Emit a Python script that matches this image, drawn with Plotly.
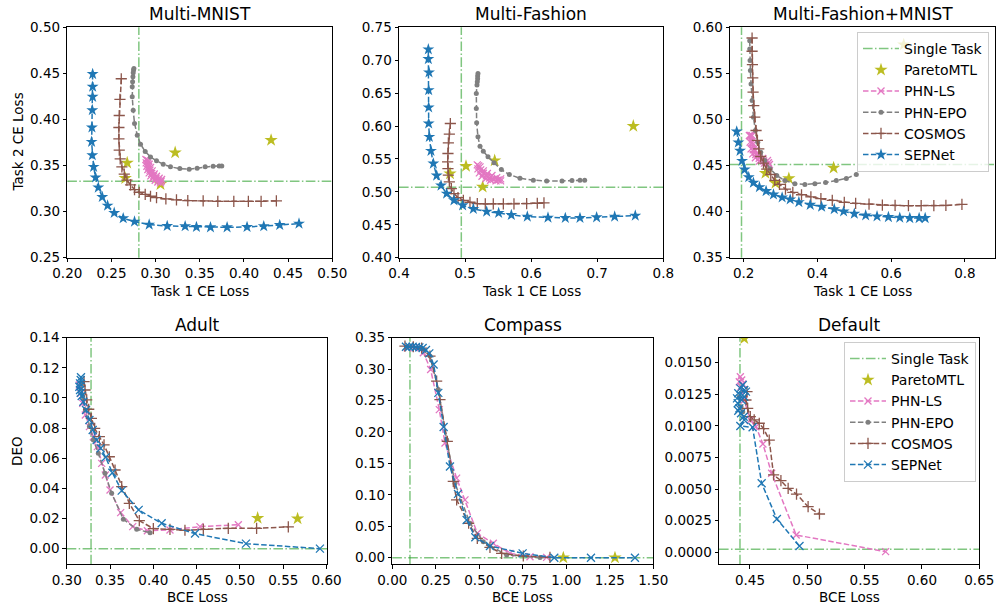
import plotly.graph_objects as go

# ---------------- colours ----------------
C_BLUE = '#1f77b4'
C_BROWN = '#8c564b'
C_PINK = '#e377c2'
C_GRAY = '#7f7f7f'
C_OLIVE = '#bcbd22'
C_GREEN = 'rgba(44,160,44,0.6)'

# ---------------- Multi-MNIST ----------------
mnist_single = (0.2810, 0.3330)
mnist_pareto_x = [0.2678, 0.2656, 0.3055, 0.3221, 0.4307]
mnist_pareto_y = [0.3529, 0.3362, 0.3297, 0.3641, 0.3775]
mnist_phnls_x = [0.2890, 0.2893, 0.2901, 0.2912, 0.2927, 0.2946, 0.2969, 0.2995, 0.3025, 0.3055,
                 0.3061, 0.3032, 0.3004, 0.2978, 0.2955, 0.2936, 0.2921, 0.2910, 0.2905,
                 0.2920, 0.2927, 0.2942, 0.2961, 0.2984, 0.3010, 0.3040, 0.3067]
mnist_phnls_y = [0.3565, 0.3529, 0.3493, 0.3457, 0.3420, 0.3388, 0.3362, 0.3341, 0.3322, 0.3312,
                 0.3330, 0.3342, 0.3362, 0.3386, 0.3414, 0.3450, 0.3485, 0.3521, 0.3558,
                 0.3551, 0.3514, 0.3478, 0.3442, 0.3409, 0.3384, 0.3362, 0.3348]
mnist_phnepo_x = [0.2754, 0.2750, 0.2746, 0.2743, 0.2739, 0.2735, 0.2735, 0.2746, 0.2761, 0.2792,
                  0.2829, 0.2882, 0.2942, 0.3010, 0.3086, 0.3168, 0.3274, 0.3380, 0.3470, 0.3561,
                  0.3651, 0.3719, 0.3749]
mnist_phnepo_y = [0.4554, 0.4536, 0.4507, 0.4464, 0.4409, 0.4355, 0.4246, 0.4101, 0.3957, 0.3830,
                  0.3732, 0.3652, 0.3594, 0.3551, 0.3514, 0.3486, 0.3467, 0.3460, 0.3471, 0.3486,
                  0.3493, 0.3496, 0.3496]
mnist_cosmos_x = [0.2611, 0.2596, 0.2588, 0.2584, 0.2584, 0.2588, 0.2599, 0.2618, 0.2645, 0.2675,
                  0.2716, 0.2761, 0.2814, 0.2882, 0.2942, 0.3010, 0.3116, 0.3236, 0.3364, 0.3538,
                  0.3704, 0.3885, 0.4050, 0.4194, 0.4367]
mnist_cosmos_y = [0.4442, 0.4217, 0.4043, 0.3913, 0.3790, 0.3667, 0.3572, 0.3486, 0.3406, 0.3341,
                  0.3290, 0.3239, 0.3210, 0.3188, 0.3167, 0.3152, 0.3138, 0.3127, 0.3120, 0.3116,
                  0.3112, 0.3112, 0.3112, 0.3112, 0.3116]
mnist_sepnet_x = [0.2287, 0.2287, 0.2287, 0.2283, 0.2279, 0.2275, 0.2283, 0.2298, 0.2320, 0.2351,
                  0.2396, 0.2456, 0.2531, 0.2633, 0.2761, 0.2927, 0.3131, 0.3334, 0.3462, 0.3621,
                  0.3809, 0.4035, 0.4224, 0.4405, 0.4623]
mnist_sepnet_y = [0.4493, 0.4355, 0.4246, 0.4101, 0.3913, 0.3757, 0.3612, 0.3486, 0.3370, 0.3261,
                  0.3159, 0.3065, 0.2986, 0.2928, 0.2891, 0.2859, 0.2844, 0.2841, 0.2833, 0.2830,
                  0.2830, 0.2833, 0.2841, 0.2855, 0.2870]

# ---------------- Multi-Fashion ----------------
fash_single = (0.4943, 0.5070)
fash_pareto_x = [0.5014, 0.4772, 0.5266, 0.5448, 0.7546]
fash_pareto_y = [0.5390, 0.5278, 0.5075, 0.5476, 0.5999]
fash_phnls_x = [0.5185, 0.5195, 0.5216, 0.5256, 0.5317, 0.5387, 0.5468, 0.5538,
                0.5500, 0.5427, 0.5372, 0.5322, 0.5276, 0.5236, 0.5205,
                0.5226, 0.5276, 0.5337, 0.5407, 0.5478, 0.5538]
fash_phnls_y = [0.5410, 0.5349, 0.5288, 0.5238, 0.5202, 0.5177, 0.5167, 0.5167,
                0.5180, 0.5190, 0.5212, 0.5243, 0.5283, 0.5334, 0.5395,
                0.5380, 0.5319, 0.5278, 0.5248, 0.5217, 0.5197]
fash_phnepo_x = [0.5195, 0.5190, 0.5190, 0.5185, 0.5180, 0.5170, 0.5170, 0.5175, 0.5195, 0.5226,
                 0.5276, 0.5347, 0.5438, 0.5549, 0.5670, 0.5831, 0.6033, 0.6235, 0.6467, 0.6618,
                 0.6739, 0.6810]
fash_phnepo_y = [0.6800, 0.6759, 0.6719, 0.6673, 0.6622, 0.6496, 0.6267, 0.6049, 0.5836, 0.5694,
                 0.5618, 0.5532, 0.5441, 0.5339, 0.5263, 0.5207, 0.5177, 0.5167, 0.5167, 0.5172,
                 0.5177, 0.5177]
fash_cosmos_x = [0.4777, 0.4762, 0.4747, 0.4741, 0.4736, 0.4741, 0.4747, 0.4762, 0.4792, 0.4832,
                 0.4893, 0.4974, 0.5074, 0.5185, 0.5306, 0.5427, 0.5579, 0.5740, 0.5932, 0.6093,
                 0.6194]
fash_cosmos_y = [0.6039, 0.5877, 0.5745, 0.5583, 0.5456, 0.5354, 0.5253, 0.5151, 0.5050, 0.4974,
                 0.4913, 0.4872, 0.4842, 0.4822, 0.4817, 0.4817, 0.4817, 0.4817, 0.4822, 0.4827,
                 0.4832]
fash_sepnet_x = [0.4444, 0.4444, 0.4454, 0.4449, 0.4449, 0.4449, 0.4459, 0.4484, 0.4520, 0.4570,
                 0.4636, 0.4721, 0.4832, 0.4963, 0.5125, 0.5327, 0.5508, 0.5700, 0.5942, 0.6255,
                 0.6517, 0.6739, 0.6991, 0.7264, 0.7576]
fash_sepnet_y = [0.7165, 0.7018, 0.6815, 0.6546, 0.6283, 0.6039, 0.5836, 0.5623, 0.5430, 0.5248,
                 0.5096, 0.4974, 0.4872, 0.4796, 0.4741, 0.4700, 0.4680, 0.4649, 0.4624, 0.4609,
                 0.4604, 0.4604, 0.4614, 0.4624, 0.4639]

# ---------------- Multi-Fashion+MNIST ----------------
fm_single = (0.1940, 0.4512)
fm_pareto_x = [0.2589, 0.2861, 0.3224, 0.4438, 0.6341]
fm_pareto_y = [0.4418, 0.4309, 0.4360, 0.4475, 0.5812]
fm_phnls_x = [0.2154, 0.2172, 0.2199, 0.2245, 0.2317, 0.2426, 0.2562, 0.2698,
              0.2670, 0.2540, 0.2420, 0.2326, 0.2258, 0.2217, 0.2190,
              0.2227, 0.2263, 0.2317, 0.2408, 0.2517, 0.2644]
fm_phnls_y = [0.4826, 0.4754, 0.4681, 0.4627, 0.4584, 0.4548, 0.4526, 0.4512,
              0.4530, 0.4550, 0.4580, 0.4620, 0.4672, 0.4745, 0.4826,
              0.4826, 0.4736, 0.4663, 0.4613, 0.4577, 0.4555]
fm_phnepo_x = [0.2163, 0.2163, 0.2172, 0.2181, 0.2199, 0.2227, 0.2263, 0.2317, 0.2381, 0.2462,
               0.2571, 0.2716, 0.2897, 0.3115, 0.3387, 0.3659, 0.3931, 0.4221, 0.4511, 0.4783,
               0.5054]
fm_phnepo_y = [0.5855, 0.5765, 0.5639, 0.5530, 0.5386, 0.5205, 0.5025, 0.4880, 0.4754, 0.4645,
               0.4555, 0.4465, 0.4392, 0.4338, 0.4302, 0.4295, 0.4302, 0.4316, 0.4338, 0.4360,
               0.4403]
fm_cosmos_x = [0.2227, 0.2227, 0.2236, 0.2245, 0.2254, 0.2272, 0.2299, 0.2335, 0.2372, 0.2408,
               0.2462, 0.2535, 0.2625, 0.2734, 0.2843, 0.2970, 0.3133, 0.3332, 0.3568, 0.3822,
               0.4094, 0.4402, 0.4728, 0.5036, 0.5399, 0.5761, 0.6106, 0.6468, 0.6813, 0.7157,
               0.7484, 0.7919]
fm_cosmos_y = [0.5884, 0.5740, 0.5595, 0.5451, 0.5296, 0.5151, 0.5025, 0.4880, 0.4772, 0.4681,
               0.4598, 0.4526, 0.4461, 0.4403, 0.4338, 0.4295, 0.4244, 0.4208, 0.4183, 0.4161,
               0.4140, 0.4121, 0.4100, 0.4089, 0.4082, 0.4071, 0.4067, 0.4064, 0.4064, 0.4064,
               0.4067, 0.4078]
fm_sepnet_x = [0.1810, 0.1855, 0.1900, 0.1955, 0.2027, 0.2136, 0.2263, 0.2426, 0.2607, 0.2807,
               0.3042, 0.3260, 0.3496, 0.3804, 0.4112, 0.4456, 0.4710, 0.5000, 0.5308, 0.5616,
               0.5925, 0.6233, 0.6505, 0.6758, 0.6922]
fm_sepnet_y = [0.4869, 0.4750, 0.4660, 0.4551, 0.4457, 0.4374, 0.4313, 0.4266, 0.4223, 0.4186,
               0.4154, 0.4132, 0.4103, 0.4074, 0.4053, 0.4027, 0.4002, 0.3977, 0.3959, 0.3948,
               0.3941, 0.3934, 0.3930, 0.3930, 0.3930]

# ---------------- Adult ----------------
adult_single = (0.3281, 0.0)
adult_pareto_x = [0.5204, 0.5665]
adult_pareto_y = [0.0203, 0.0199]
adult_phnls_x = [0.3146, 0.3162, 0.3185, 0.3215, 0.3262, 0.3308, 0.3354, 0.3404, 0.3446, 0.3500,
                 0.3623, 0.3762, 0.3931, 0.4192, 0.4538, 0.4981]
adult_phnls_y = [0.1086, 0.1031, 0.0964, 0.0887, 0.0810, 0.0743, 0.0677, 0.0566, 0.0489, 0.0389,
                 0.0239, 0.0146, 0.0119, 0.0124, 0.0146, 0.0159]
adult_phnepo_x = [0.3169, 0.3185, 0.3215, 0.3262, 0.3308, 0.3365, 0.3442, 0.3519, 0.3654, 0.3808,
                  0.3962]
adult_phnepo_y = [0.1097, 0.1009, 0.0920, 0.0810, 0.0721, 0.0633, 0.0500, 0.0367, 0.0195, 0.0128,
                  0.0106]
adult_cosmos_x = [0.3200, 0.3212, 0.3231, 0.3254, 0.3285, 0.3323, 0.3377, 0.3431, 0.3492, 0.3558,
                  0.3635, 0.3723, 0.3838, 0.4000, 0.4192, 0.4365, 0.4577, 0.4865, 0.5192, 0.5558]
adult_cosmos_y = [0.1108, 0.1053, 0.0987, 0.0925, 0.0865, 0.0798, 0.0743, 0.0688, 0.0610, 0.0522,
                  0.0411, 0.0301, 0.0186, 0.0133, 0.0128, 0.0122, 0.0128, 0.0135, 0.0135, 0.0144]
adult_sepnet_x = [0.3165, 0.3162, 0.3154, 0.3146, 0.3154, 0.3162, 0.3173, 0.3192, 0.3223, 0.3262,
                  0.3300, 0.3346, 0.3392, 0.3450, 0.3527, 0.3635, 0.3831, 0.4096, 0.4481, 0.5069,
                  0.5923]
adult_sepnet_y = [0.1137, 0.1119, 0.1097, 0.1075, 0.1053, 0.1035, 0.1013, 0.0975, 0.0920, 0.0854,
                  0.0787, 0.0721, 0.0666, 0.0606, 0.0504, 0.0385, 0.0257, 0.0168, 0.0100, 0.0033,
                  0.0000]

# ---------------- Compass ----------------
comp_single = (0.1015, 0.0)
comp_pareto_x = [0.9828, 1.2797]
comp_pareto_y = [0.0, 0.0]
comp_phnls_x = [0.0862, 0.1303, 0.1782, 0.2203, 0.2701, 0.3027, 0.3697, 0.4176, 0.4885, 0.5805,
                0.6762, 0.7912, 0.8870]
comp_phnls_y = [0.3340, 0.3340, 0.3261, 0.2995, 0.2356, 0.1824, 0.1266, 0.0920, 0.0388, 0.0229,
                0.0069, 0.0016, 0.0005]
comp_phnepo_x = [0.0824, 0.1590, 0.2165, 0.2644, 0.3123, 0.3602, 0.4464, 0.5230, 0.6571, 0.8487]
comp_phnepo_y = [0.3351, 0.3340, 0.3207, 0.2676, 0.1878, 0.1186, 0.0548, 0.0255, 0.0043, 0.0005]
comp_cosmos_x = [0.0728, 0.1207, 0.1686, 0.2165, 0.2548, 0.2739, 0.3161, 0.3506, 0.3697, 0.4387,
                 0.4885, 0.5613, 0.6284, 0.7529, 0.9061]
comp_cosmos_y = [0.3367, 0.3356, 0.3335, 0.3207, 0.2809, 0.2516, 0.1851, 0.1213, 0.0920, 0.0548,
                 0.0309, 0.0165, 0.0069, 0.0027, 0.0005]
comp_sepnet_x = [0.0785, 0.0977, 0.1169, 0.1360, 0.1552, 0.1743, 0.1935, 0.2126, 0.2375, 0.2644,
                 0.2950, 0.3314, 0.3774, 0.4272, 0.4770, 0.5613, 0.7490, 0.9310, 1.1418, 1.3946]
comp_sepnet_y = [0.3356, 0.3356, 0.3356, 0.3351, 0.3346, 0.3335, 0.3303, 0.3250, 0.3074, 0.2622,
                 0.2080, 0.1452, 0.1016, 0.0601, 0.0324, 0.0186, 0.0069, 0.0, 0.0, 0.0]

# ---------------- Default ----------------
def_single = (0.4413, 0.00024)
def_pareto_x = [0.4450]
def_pareto_y = [0.01693]
def_phnls_x = [0.4416, 0.4428, 0.4407, 0.4437, 0.4422, 0.4450, 0.4503, 0.4552, 0.4613, 0.4689,
               0.4903, 0.5683]
def_phnls_y = [0.01389, 0.01363, 0.01350, 0.01332, 0.01310, 0.01205, 0.01047, 0.00994, 0.00857,
               0.00625, 0.00137, 0.00005]
def_phnepo_x = [0.4407, 0.4422, 0.4437]
def_phnepo_y = [0.01231, 0.01152, 0.01112]
def_cosmos_x = [0.4474, 0.4465, 0.4480, 0.4503, 0.4537, 0.4581, 0.4619, 0.4668, 0.4706, 0.4770,
                0.4833, 0.4906, 0.5007, 0.5106]
def_cosmos_y = [0.01271, 0.01205, 0.01139, 0.01073, 0.01047, 0.01021, 0.00978, 0.00888, 0.00612,
                0.00567, 0.00506, 0.00461, 0.00361, 0.00303]
def_sepnet_x = [0.4437, 0.4416, 0.4465, 0.4398, 0.4450, 0.4450, 0.4387, 0.4428, 0.4393, 0.4407,
                0.4398, 0.4422, 0.4445, 0.4450, 0.4416, 0.4523, 0.4602, 0.4735, 0.4932]
def_sepnet_y = [0.01324, 0.01297, 0.01271, 0.01258, 0.01284, 0.01231, 0.01218, 0.01205, 0.01179,
                0.01139, 0.01120, 0.01100, 0.01073, 0.01047, 0.00999, 0.00989, 0.00546, 0.00263,
                0.00050]

# ---------------- axes ----------------
titles = ['Multi-MNIST', 'Multi-Fashion', 'Multi-Fashion+MNIST', 'Adult', 'Compass', 'Default']
x_ranges = [[0.20, 0.50], [0.4, 0.8], [0.1628, 0.8816], [0.30, 0.6008], [0.0, 1.5], [0.423, 0.65]]
y_ranges = [[0.25, 0.50], [0.40, 0.75], [0.35, 0.60], [-0.0104, 0.14], [-0.0105, 0.35], [-0.00095, 0.01698]]
x_ticks = [[0.20, 0.25, 0.30, 0.35, 0.40, 0.45, 0.50], [0.4, 0.5, 0.6, 0.7, 0.8], [0.2, 0.4, 0.6, 0.8],
           [0.30, 0.35, 0.40, 0.45, 0.50, 0.55, 0.60], [0.0, 0.25, 0.5, 0.75, 1.0, 1.25, 1.5],
           [0.45, 0.50, 0.55, 0.60, 0.65]]
x_fmt = ['.2f', '.1f', '.1f', '.2f', '.2f', '.2f']
y_ticks = [[0.25, 0.30, 0.35, 0.40, 0.45, 0.50], [0.40, 0.45, 0.50, 0.55, 0.60, 0.65, 0.70, 0.75],
           [0.35, 0.40, 0.45, 0.50, 0.55, 0.60], [0.0, 0.02, 0.04, 0.06, 0.08, 0.10, 0.12, 0.14],
           [0.0, 0.05, 0.10, 0.15, 0.20, 0.25, 0.30, 0.35],
           [0.0, 0.0025, 0.005, 0.0075, 0.01, 0.0125, 0.015]]
y_fmt = ['.2f', '.2f', '.2f', '.2f', '.2f', '.4f']
x_label = ['Task 1 CE Loss'] * 3 + ['BCE Loss'] * 3

W, H = 997, 605
px_x = [(67.3, 332.3), (399, 663.3), (730, 995), (66.7, 327.3), (392.3, 653.3), (719, 979.3)]
px_y = [(27.3, 257.7)] * 3 + [(337.7, 564.3)] * 3


def PX(v):
    return v / W


def PY(v):
    return 1 - v / H


fig = go.Figure()
FONT = 'DejaVu Sans, Arial, sans-serif'
layout = dict(width=W, height=H, margin=dict(l=0, r=0, t=0, b=0, pad=0, autoexpand=False),
              autosize=False, paper_bgcolor='white', plot_bgcolor='white',
              font=dict(family=FONT, size=13.5, color='black'), annotations=[])

for i in range(6):
    n = '' if i == 0 else str(i + 1)
    xd = [PX(px_x[i][0]), PX(px_x[i][1])]
    yd = [PY(px_y[i][1]), PY(px_y[i][0])]
    common = dict(showline=True, linecolor='black', linewidth=1, mirror=True, ticks='outside',
                  ticklen=3.5, tickwidth=1, tickcolor='black', showgrid=False, zeroline=False,
                  automargin=False,
                  tickfont=dict(family=FONT, size=13.5, color='black'), fixedrange=True)
    layout['xaxis' + n] = dict(domain=xd, range=x_ranges[i], tickvals=x_ticks[i], tickformat=x_fmt[i],
                               anchor='y' + n, **common)
    layout['yaxis' + n] = dict(domain=yd, range=y_ranges[i], tickvals=y_ticks[i], tickformat=y_fmt[i],
                               anchor='x' + n, **common)
    cx = PX((px_x[i][0] + px_x[i][1]) / 2)
    layout['annotations'].append(dict(text=titles[i], x=cx, y=PY(14 if i < 3 else 325),
                                      xref='paper', yref='paper', showarrow=False,
                                      font=dict(size=17, family=FONT, color='black'),
                                      xanchor='center', yanchor='middle'))
    layout['annotations'].append(dict(text=x_label[i], x=cx, y=PY(291 if i < 3 else 597),
                                      xref='paper', yref='paper', showarrow=False,
                                      font=dict(size=13.5, family=FONT, color='black'),
                                      xanchor='center', yanchor='middle'))

layout['annotations'].append(dict(text='Task 2 CE Loss', x=PX(17), y=PY(142.5), textangle=-90,
                                  xref='paper', yref='paper', showarrow=False,
                                  font=dict(size=13.5, family=FONT, color='black'),
                                  xanchor='center', yanchor='middle'))
layout['annotations'].append(dict(text='DEO', x=PX(17), y=PY(451), textangle=-90,
                                  xref='paper', yref='paper', showarrow=False,
                                  font=dict(size=13.5, family=FONT, color='black'),
                                  xanchor='center', yanchor='middle'))

leg_common = dict(bgcolor='rgba(255,255,255,0.8)', bordercolor='#cccccc', borderwidth=1,
                  font=dict(size=14, family=FONT, color='black'), tracegroupgap=0,
                  itemwidth=36, xanchor='left', yanchor='top', traceorder='normal')
layout['legend'] = dict(x=PX(857), y=PY(32), **leg_common)
layout['legend2'] = dict(x=PX(844), y=PY(342), **leg_common)

fig.update_layout(**layout)

DASH = '5.5px,2.4px'
DASHDOT = '9.6px,2.4px,1.5px,2.4px'


def add(i, name, x, y, kind, legend=None):
    n = '' if i == 0 else str(i + 1)
    xa, ya = 'x' + n, 'y' + n
    show = legend is not None
    kw = dict(x=x, y=y, xaxis=xa, yaxis=ya, name=name, showlegend=show, hoverinfo='skip')
    if legend:
        kw['legend'] = legend
    if kind == 'pareto':
        tr = go.Scatter(mode='markers', marker=dict(symbol='star', size=10, color=C_OLIVE,
                                                    line=dict(width=0)), **kw)
    elif kind == 'phnls':
        tr = go.Scatter(mode='lines+markers', line=dict(color=C_PINK, width=1.5, dash=DASH),
                        marker=dict(symbol='x-thin', size=7, color=C_PINK,
                                    line=dict(width=1.3, color=C_PINK)), **kw)
    elif kind == 'phnepo':
        tr = go.Scatter(mode='lines+markers', line=dict(color=C_GRAY, width=1.5, dash=DASH),
                        marker=dict(symbol='circle', size=5, color=C_GRAY, line=dict(width=0)), **kw)
    elif kind == 'cosmos':
        tr = go.Scatter(mode='lines+markers', line=dict(color=C_BROWN, width=1.5, dash=DASH),
                        marker=dict(symbol='cross-thin', size=8, color=C_BROWN,
                                    line=dict(width=1.3, color=C_BROWN)), **kw)
    elif kind == 'sepnet_star':
        tr = go.Scatter(mode='lines+markers', line=dict(color=C_BLUE, width=1.5, dash=DASH),
                        marker=dict(symbol='star', size=9, color=C_BLUE, line=dict(width=0)), **kw)
    elif kind == 'sepnet_x':
        tr = go.Scatter(mode='lines+markers', line=dict(color=C_BLUE, width=1.5, dash=DASH),
                        marker=dict(symbol='x-thin', size=8, color=C_BLUE,
                                    line=dict(width=1.3, color=C_BLUE)), **kw)
    elif kind == 'single':
        tr = go.Scatter(mode='lines', line=dict(color=C_GREEN, width=1.5, dash=DASHDOT), **kw)
    fig.add_trace(tr)


datasets = [
    (mnist_single, mnist_pareto_x, mnist_pareto_y, mnist_phnls_x, mnist_phnls_y, mnist_phnepo_x,
     mnist_phnepo_y, mnist_cosmos_x, mnist_cosmos_y, mnist_sepnet_x, mnist_sepnet_y),
    (fash_single, fash_pareto_x, fash_pareto_y, fash_phnls_x, fash_phnls_y, fash_phnepo_x,
     fash_phnepo_y, fash_cosmos_x, fash_cosmos_y, fash_sepnet_x, fash_sepnet_y),
    (fm_single, fm_pareto_x, fm_pareto_y, fm_phnls_x, fm_phnls_y, fm_phnepo_x,
     fm_phnepo_y, fm_cosmos_x, fm_cosmos_y, fm_sepnet_x, fm_sepnet_y),
    (adult_single, adult_pareto_x, adult_pareto_y, adult_phnls_x, adult_phnls_y, adult_phnepo_x,
     adult_phnepo_y, adult_cosmos_x, adult_cosmos_y, adult_sepnet_x, adult_sepnet_y),
    (comp_single, comp_pareto_x, comp_pareto_y, comp_phnls_x, comp_phnls_y, comp_phnepo_x,
     comp_phnepo_y, comp_cosmos_x, comp_cosmos_y, comp_sepnet_x, comp_sepnet_y),
    (def_single, def_pareto_x, def_pareto_y, def_phnls_x, def_phnls_y, def_phnepo_x,
     def_phnepo_y, def_cosmos_x, def_cosmos_y, def_sepnet_x, def_sepnet_y),
]

for i, d in enumerate(datasets):
    single, px_, py_, lsx, lsy, epx, epy, cox, coy, sex, sey = d
    leg = 'legend' if i == 2 else ('legend2' if i == 5 else None)
    n = '' if i == 0 else str(i + 1)
    # single task reference lines
    fig.add_shape(type='line', xref='x' + n, yref='y' + n + ' domain', x0=single[0], x1=single[0],
                  y0=0, y1=1, line=dict(color=C_GREEN, width=1.5, dash=DASHDOT), layer='below')
    fig.add_shape(type='line', xref='x' + n + ' domain', yref='y' + n, x0=0, x1=1,
                  y0=single[1], y1=single[1], line=dict(color=C_GREEN, width=1.5, dash=DASHDOT),
                  layer='below')
    if leg:
        add(i, 'Single Task', [None], [None], 'single', leg)
    add(i, 'ParetoMTL', px_, py_, 'pareto', leg)
    add(i, 'PHN-LS', lsx, lsy, 'phnls', leg)
    add(i, 'PHN-EPO', epx, epy, 'phnepo', leg)
    add(i, 'COSMOS', cox, coy, 'cosmos', leg)
    add(i, 'SEPNet', sex, sey, 'sepnet_star' if i < 3 else 'sepnet_x', leg)

# remove the default page margin so the figure starts at the window's top-left corner
fig.write_html('out.html', config={'displayModeBar': False, 'staticPlot': True},
               post_script="document.body.style.margin='0px';")
